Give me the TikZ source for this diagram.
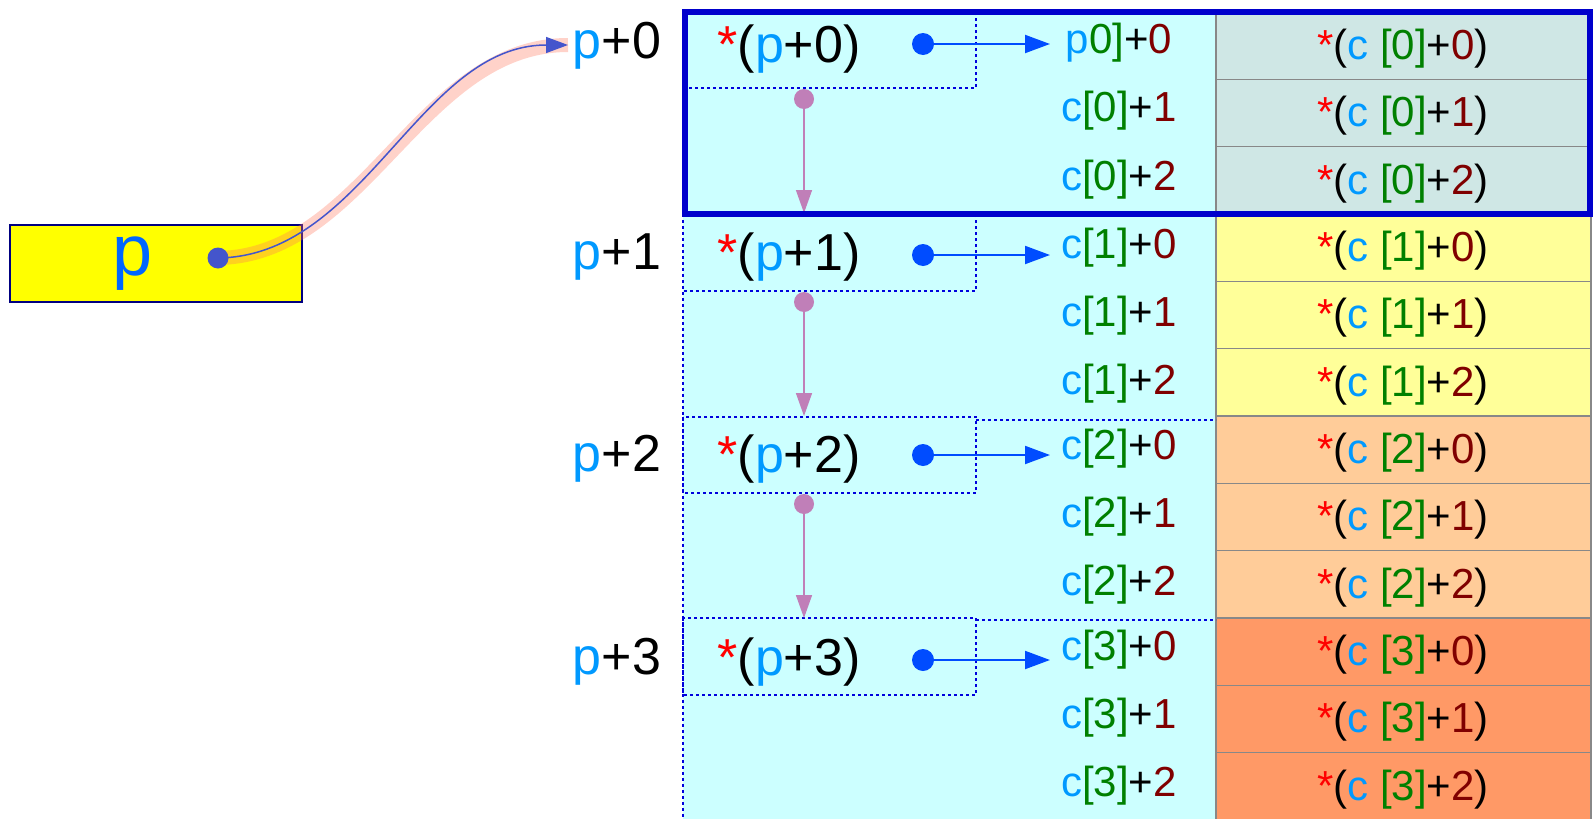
\documentclass[tikz,border=0pt]{standalone}
\usepackage{fontspec}
\setmainfont{Liberation Sans}
\usetikzlibrary{arrows.meta}
\definecolor{lb}{HTML}{0099FF}
\definecolor{gr}{HTML}{008000}
\definecolor{dr}{HTML}{800000}
\definecolor{rd}{HTML}{FF0000}
\definecolor{cy}{HTML}{CCFFFF}
\definecolor{gz}{HTML}{CFE7E5}
\definecolor{gone}{HTML}{FFFF99}
\definecolor{gtwo}{HTML}{FFCC99}
\definecolor{gthree}{HTML}{FF9966}
\definecolor{thickc}{HTML}{0000CC}
\definecolor{dotc}{HTML}{0000DD}
\definecolor{bdotc}{HTML}{004CFF}
\definecolor{pur}{HTML}{C07FB8}
\definecolor{curvec}{HTML}{4455CC}
\definecolor{glowc}{HTML}{FF765C}
\definecolor{pblue}{HTML}{0066FF}
\definecolor{navyc}{HTML}{000080}
\definecolor{ybg}{HTML}{FFFF00}
\definecolor{cellline}{HTML}{888888}
\newcommand{\mycl}[2]{\textcolor{lb}{c}\textcolor{gr}{[#1]}+\textcolor{dr}{#2}}
\newcommand{\mycv}[2]{\textcolor{rd}{*}(\textcolor{lb}{c} \textcolor{gr}{[#1]}+\textcolor{dr}{#2})}
\newcommand{\mypv}[1]{\textcolor{rd}{*}(\textcolor{lb}{p}+#1)}
\newcommand{\mypl}[1]{\textcolor{lb}{p}+#1}
\begin{document}
\begin{tikzpicture}[x=1pt,y=-1pt,
  cell/.style={draw=cellline,line width=1.5pt},
  dotline/.style={draw=dotc,line width=1.5pt,dash pattern=on 3pt off 3pt},
  thickbox/.style={draw=thickc,line width=6pt},
  bigtext/.style={inner sep=0pt,font=\fontsize{52}{62}\selectfont},
  midtext/.style={inner sep=0pt,font=\fontsize{42}{50}\selectfont},
  ptext/.style={inner sep=0pt,text=pblue,font=\fontsize{72}{84}\selectfont},
  ybox/.style={draw=navyc,fill=ybg,line width=1.5pt,minimum width=292pt,minimum height=77pt,inner sep=0pt},
  bdot/.style={circle,fill=bdotc,minimum size=22pt,inner sep=0pt},
  pdot/.style={circle,fill=pur,minimum size=20pt,inner sep=0pt},
  ydot/.style={circle,fill=curvec,minimum size=21pt,inner sep=0pt},
  barrow/.style={draw=bdotc,line width=2pt,-{Triangle[length=25pt,width=18pt]}},
  parrow/.style={draw=pur,line width=1.5pt,-{Triangle[length=23pt,width=16pt]}},
  glow/.style={draw=glowc,draw opacity=0.33,line width=14pt,line cap=butt},
  curve/.style={draw=curvec,line width=1.5pt,-{Triangle[length=22pt,width=16pt]}}
]
\useasboundingbox (0,0) rectangle (1596,819);
\clip (0,0) rectangle (1596,819);

% cyan area
\fill[cy] (683,12) rectangle (1216,830);

% right column cells
\foreach \k/\col in {0/gz,1/gone,2/gtwo,3/gthree}{
  \foreach \j in {0,1,2}{
    \filldraw[cell,fill=\col] (1216,{12+202*\k+67.333*\j}) rectangle (1591,{12+202*\k+67.333*(\j+1)});
    \node[midtext] (r\k\j) at (1403,{12+202*\k+67.333*\j+36.5}) {\mycv{\k}{\j}};
  }
}

% dotted structure
\draw[dotline] (683,214) -- (683,830);
\draw[dotline] (683,88) -- (976,88) -- (976,12);
\draw[dotline] (683,214) rectangle (976,291);
\draw[dotline] (683,417) rectangle (976,493);
\draw[dotline] (976,420) -- (1216,420);
\draw[dotline] (683,618) rectangle (976,695);
\draw[dotline] (976,620) -- (1216,620);

% c labels
\node[midtext] (c00) at (1119,43) {\textcolor{lb}{p}\textcolor{gr}{0]}+\textcolor{dr}{0}};
\node[midtext] (c01) at (1119,111) {\mycl{0}{1}};
\node[midtext] (c02) at (1119,180) {\mycl{0}{2}};
\node[midtext] (c10) at (1119,248) {\mycl{1}{0}};
\node[midtext] (c11) at (1119,316) {\mycl{1}{1}};
\node[midtext] (c12) at (1119,384) {\mycl{1}{2}};
\node[midtext] (c20) at (1119,449) {\mycl{2}{0}};
\node[midtext] (c21) at (1119,517) {\mycl{2}{1}};
\node[midtext] (c22) at (1119,585) {\mycl{2}{2}};
\node[midtext] (c30) at (1119,650) {\mycl{3}{0}};
\node[midtext] (c31) at (1119,718) {\mycl{3}{1}};
\node[midtext] (c32) at (1119,786) {\mycl{3}{2}};

% *(p+k) texts
\node[bigtext] (sp0) at (789,49) {\mypv{0}};
\node[bigtext] (sp1) at (789,257) {\mypv{1}};
\node[bigtext] (sp2) at (789,459) {\mypv{2}};
\node[bigtext] (sp3) at (789,662) {\mypv{3}};

% p+k labels
\node[bigtext] (pl0) at (617,46) {\mypl{0}};
\node[bigtext] (pl1) at (617,257) {\mypl{1}};
\node[bigtext] (pl2) at (617,459) {\mypl{2}};
\node[bigtext] (pl3) at (617,662) {\mypl{3}};

% blue pointer arrows
\coordinate (ae0) at (1050,44);
\coordinate (ae1) at (1050,255);
\coordinate (ae2) at (1050,455);
\coordinate (ae3) at (1050,660);
\node[bdot] (bd0) at (923,44) {};
\node[bdot] (bd1) at (923,255) {};
\node[bdot] (bd2) at (923,455) {};
\node[bdot] (bd3) at (923,660) {};
\draw[barrow] (bd0.center) -- (ae0);
\draw[barrow] (bd1.center) -- (ae1);
\draw[barrow] (bd2.center) -- (ae2);
\draw[barrow] (bd3.center) -- (ae3);

% purple arrows
\coordinate (pe0) at (804,213);
\coordinate (pe1) at (804,416);
\coordinate (pe2) at (804,618);
\node[pdot] (pd0) at (804,99) {};
\node[pdot] (pd1) at (804,302) {};
\node[pdot] (pd2) at (804,504) {};
\draw[parrow] (pd0.center) -- (pe0);
\draw[parrow] (pd1.center) -- (pe1);
\draw[parrow] (pd2.center) -- (pe2);

% thick box
\draw[thickbox] (684.5,11.5) rectangle (1590,214);

% pointer p
\node[ybox] (pbox) at (156,263.5) {};
\node[ptext] (ptxt) at (133,264) {p};
\coordinate (ydc) at (218,258);
\coordinate (cend) at (568,45);
\draw[glow] (ydc) .. controls (365,256) and (420,45) .. (cend);
\draw[curve] (ydc) .. controls (365,256) and (420,45) .. (cend);
\node[ydot] (yd) at (ydc) {};
\end{tikzpicture}
\end{document}
